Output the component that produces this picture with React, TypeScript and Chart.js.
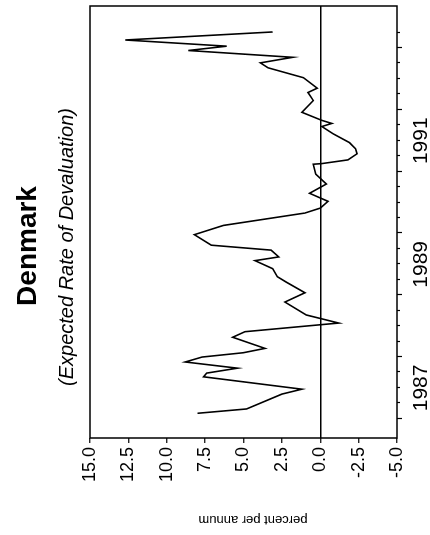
import React, { useEffect, useRef } from 'react';
import { Chart, registerables } from 'chart.js';

Chart.register(...registerables);

// Time (decimal years) and expected rate of devaluation (percent per annum)
const dates = [
  1987.09, 1987.16, 1987.40, 1987.48, 1987.68, 1987.74, 1987.82, 1987.92,
  1988.00, 1988.07, 1988.14, 1988.32, 1988.41, 1988.55, 1988.68, 1988.89,
  1989.04, 1989.21, 1989.30, 1989.43, 1989.56, 1989.62, 1989.73, 1989.81, 1989.98,
  1990.13, 1990.33, 1990.41, 1990.52, 1990.65, 1990.80, 1990.96,
  1991.12, 1991.13, 1991.19, 1991.29, 1991.37, 1991.47, 1991.61, 1991.73, 1991.78, 1991.83, 1991.96,
  1992.15, 1992.28, 1992.35, 1992.52, 1992.68, 1992.76, 1992.85, 1992.96,
  1993.03, 1993.13, 1993.26,
];
const values = [
  8.0, 4.8, 2.5, 1.2, 7.6, 7.4, 5.4, 8.8,
  7.7, 5.0, 3.6, 5.7, 4.9, -1.2, 0.9, 2.3,
  1.0, 2.2, 2.8, 3.1, 4.25, 2.7, 3.2, 7.1, 8.2,
  6.3, 1.0, 0.0, -0.5, 0.7, -0.4, 0.3,
  0.45, -0.1, -1.8, -2.4, -2.3, -1.9, -0.85, -0.1, -0.75, -0.1, 1.2,
  0.45, 0.8, 0.2, 1.1, 3.4, 3.9, 1.8, 8.6,
  6.1, 12.7, 3.1,
];

const yearLabels = ['1987', '1989', '1991'];
const yearLabelPositions = [1987.5, 1989.5, 1991.5];
const valueTicks = [-5, -2.5, 0, 2.5, 5, 7.5, 10, 12.5, 15];
const firstQuarterTick = 1987;
const lastQuarterTick = 1993.25;

const titleText = 'Denmark';
const subtitleText = '(Expected Rate of Devaluation)';
const yTitleText = 'percent per annum';

const FONT = '"Liberation Sans", Arial, Helvetica, sans-serif';

const decorPlugin = {
  id: 'decor',
  afterDraw(chart: any) {
    const { ctx, chartArea: a, scales } = chart;
    const xs = scales.x;
    ctx.save();
    ctx.strokeStyle = '#000';
    ctx.lineWidth = 1.5;
    ctx.strokeRect(a.left, a.top, a.right - a.left, a.bottom - a.top);

    ctx.lineWidth = 1.2;
    for (let q = firstQuarterTick; q <= lastQuarterTick + 1e-6; q += 0.25) {
      const px = Math.round(xs.getPixelForValue(q)) + 0.5;
      const len = Math.abs(q - Math.round(q)) < 1e-6 ? 5 : 3;
      ctx.beginPath();
      ctx.moveTo(px, a.bottom);
      ctx.lineTo(px, a.bottom + len);
      ctx.stroke();
    }

    ctx.fillStyle = '#000';
    ctx.textAlign = 'center';
    ctx.textBaseline = 'alphabetic';
    ctx.font = `bold 28px ${FONT}`;
    ctx.fillText(titleText, 289, 36);
    ctx.font = `italic 20px ${FONT}`;
    ctx.fillText(subtitleText, 288, 73);

    ctx.translate(15, 253);
    ctx.rotate(-Math.PI / 2);
    ctx.font = `13px ${FONT}`;
    ctx.textBaseline = 'middle';
    ctx.fillText(yTitleText, 0, 0);
    ctx.restore();
  },
};

export default function App() {
  const ref = useRef<HTMLCanvasElement | null>(null);

  useEffect(() => {
    if (!ref.current) return;
    const chart = new Chart(ref.current, {
      type: 'line',
      data: {
        datasets: [
          {
            data: dates.map((d, i) => ({ x: d, y: values[i] })),
            borderColor: '#000',
            borderWidth: 1.6,
            pointRadius: 0,
            tension: 0,
            fill: false,
          },
        ],
      },
      options: {
        responsive: false,
        devicePixelRatio: 1,
        animation: false,
        layout: { padding: { top: 90, right: 6, left: 0, bottom: 0 } },
        plugins: { legend: { display: false }, tooltip: { enabled: false }, title: { display: false } },
        scales: {
          x: {
            type: 'linear',
            min: 1986.69,
            max: 1993.68,
            afterBuildTicks: (s: any) => {
              s.ticks = yearLabelPositions.map((v) => ({ value: v }));
            },
            afterFit: (s: any) => {
              s.height = 33;
            },
            grid: { display: false, drawTicks: false },
            border: { display: false },
            ticks: {
              autoSkip: false,
              maxRotation: 0,
              padding: 12,
              color: '#000',
              font: { family: FONT, size: 21 },
              callback: (_v: any, i: number) => yearLabels[i],
            },
          },
          y: {
            type: 'linear',
            min: -5,
            max: 15,
            afterBuildTicks: (s: any) => {
              s.ticks = valueTicks.map((v) => ({ value: v }));
            },
            afterFit: (s: any) => {
              s.width = 97;
            },
            border: { display: false },
            grid: {
              drawOnChartArea: true,
              drawTicks: true,
              tickLength: 5,
              tickColor: '#000',
              tickWidth: 1.2,
              lineWidth: 1.5,
              color: (c: any) => (c.tick && c.tick.value === 0 ? '#000' : 'rgba(0,0,0,0)'),
            },
            ticks: {
              padding: 4,
              color: '#000',
              font: { family: FONT, size: 18 },
              callback: (v: any) => Number(v).toFixed(1),
            },
          },
        },
      },
      plugins: [decorPlugin],
    });
    return () => chart.destroy();
  }, []);

  return (
    <div style={{ position: 'absolute', left: 0, top: 0, width: 430, height: 535, overflow: 'hidden', background: '#fff' }}>
      <canvas
        ref={ref}
        width={535}
        height={430}
        style={{
          position: 'absolute',
          left: 0,
          top: 0,
          width: 535,
          height: 430,
          transformOrigin: '0 0',
          transform: 'translateY(535px) rotate(-90deg)',
        }}
      />
    </div>
  );
}
